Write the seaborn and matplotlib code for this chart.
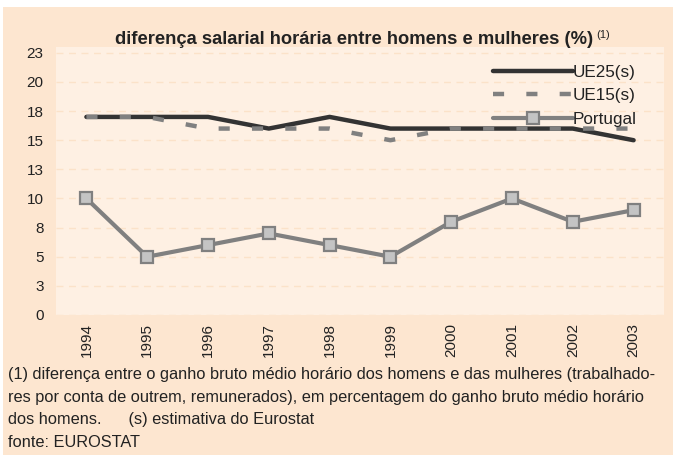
import matplotlib
matplotlib.use("Agg")
import matplotlib.pyplot as plt
import seaborn as sns
import pandas as pd
from matplotlib.patches import Rectangle

years = [1994, 1995, 1996, 1997, 1998, 1999, 2000, 2001, 2002, 2003]
ue25 = [17, 17, 17, 16, 17, 16, 16, 16, 16, 15]
ue15 = [17, 17, 16, 16, 16, 15, 16, 16, 16, 16]
portugal = [10, 5, 6, 7, 6, 5, 8, 10, 8, 9]
ytick_vals = [0, 2.5, 5, 7.5, 10, 12.5, 15, 17.5, 20, 22.5]
ytick_labels = ["0", "3", "5", "8", "10", "13", "15", "18", "20", "23"]

title = "diferença salarial horária entre homens e mulheres (%)"
footnote = ("(1) diferença entre o ganho bruto médio horário dos homens e das mulheres (trabalhado-\n"
            "res por conta de outrem, remunerados), em percentagem do ganho bruto médio horário\n"
            "dos homens.      (s) estimativa do Eurostat\n"
            "fonte: EUROSTAT")

sns.set_style("white")
plt.rcParams['font.family'] = ['Liberation Sans', 'DejaVu Sans']

W, H = 673, 458
fig = plt.figure(figsize=(W / 100, H / 100), dpi=100)
fig.patch.set_facecolor("white")
panel = "#FDE6D0"
fig.patches.append(Rectangle((3 / W, 3 / H), (W - 3) / W, (H - 10) / H,
                             transform=fig.transFigure, facecolor=panel,
                             edgecolor="none", zorder=-10))

left, right, top, bottom = 56, 664, 47, 315
ax = fig.add_axes([left / W, 1 - bottom / H, (right - left) / W, (bottom - top) / H])
ax.set_facecolor("#FEF0E3")

df = pd.DataFrame({"year": years, "UE25(s)": ue25, "UE15(s)": ue15, "Portugal": portugal})

sns.lineplot(data=df, x="year", y="UE25(s)", ax=ax, color="#333333", lw=3.2,
             label="UE25(s)", zorder=3)
sns.lineplot(data=df, x="year", y="UE15(s)", ax=ax, color="#808080", lw=3.2,
             label="UE15(s)", zorder=4, dashes=False)
ax.lines[-1].set_dashes([2.5, 5])
sns.lineplot(data=df, x="year", y="Portugal", ax=ax, color="#808080", lw=3,
             marker="s", markersize=9, markerfacecolor="#C4C4C4",
             markeredgecolor="#808080", markeredgewidth=1.6,
             label="Portugal", zorder=5)

ax.set_xlim(years[0] - 0.5, years[-1] + 0.5)
ax.set_ylim(0, 23)
ax.set_yticks(ytick_vals)
ax.set_yticklabels(ytick_labels)
ax.set_xticks(years)
ax.set_xticklabels([str(y) for y in years], rotation=90)
ax.tick_params(axis="y", length=0, pad=9, labelsize=11, labelcolor="#222222")
ax.tick_params(axis="x", length=0, pad=6, labelsize=11, labelcolor="#222222")
ax.set_xlabel("")
ax.set_ylabel("")
for s in ax.spines.values():
    s.set_visible(False)
ax.grid(axis="y", color="#FBE2C9", lw=1, ls=(0, (5, 4)))
ax.set_axisbelow(True)

leg = ax.legend(loc="upper right", bbox_to_anchor=(0.967, 0.96), frameon=False,
                fontsize=12.3, handlelength=4.7, handletextpad=0.0,
                labelspacing=0.5, borderaxespad=0, numpoints=1)
for t in leg.get_texts():
    t.set_color("#222222")

tt = fig.text(354 / W, 1 - 40 / H, title, ha="center", va="center",
              fontsize=13.2, fontweight="bold", color="#222222")
fig.canvas.draw()
bb = tt.get_window_extent()
fig.text((bb.x1 + 3) / W, (bb.y1 + 2) / H, "(1)", ha="left", va="top",
         fontsize=8, color="#222222")

fig.text(8 / W, 1 - 367 / H, footnote, ha="left", va="top", fontsize=11.8,
         color="#222222", linespacing=1.63)

fig.savefig("out.png", dpi=100, facecolor=fig.get_facecolor())
